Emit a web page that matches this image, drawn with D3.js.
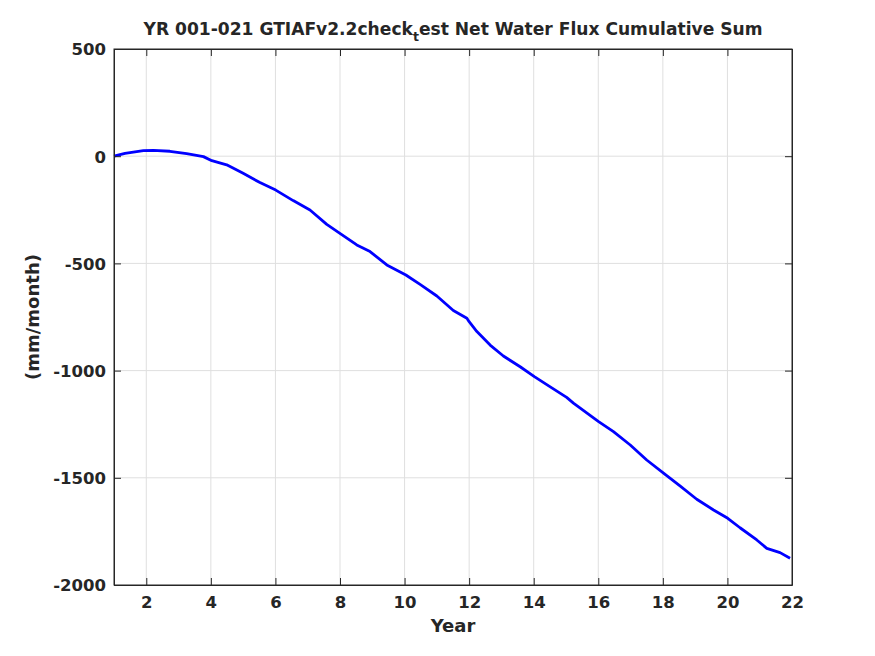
<!DOCTYPE html>
<html>
<head>
<meta charset="utf-8">
<script src="https://cdn.jsdelivr.net/npm/d3@7/dist/d3.min.js"></script>
<style>
  body { margin: 0; background: #fff; }
  svg { display: block; }
  text { font-family: "DejaVu Sans", sans-serif; font-weight: bold; fill: #262626; }
</style>
</head>
<body>
<svg id="chart" width="875" height="656"></svg>
<script>
// Data
const years = [1.0, 1.34, 1.91, 2.22, 2.73, 3.25, 3.77, 4.03, 4.49, 5.0, 5.52, 6.01, 6.55, 7.07, 7.59, 8.02, 8.52, 8.93, 9.45, 10.04, 10.48, 11.0, 11.51, 11.93, 12.0, 12.24, 12.65, 13.06, 13.58, 14.02, 14.5, 15.02, 15.23, 16.01, 16.47, 16.99, 17.5, 18.03, 18.53, 19.05, 19.57, 20.01, 20.39, 20.91, 21.22, 21.63, 21.94];
const cumSum = [0, 13, 26, 27, 23, 12, -2, -21, -40, -80, -123, -158, -207, -251, -318, -362, -414, -445, -507, -554, -598, -652, -720, -756, -772, -818, -881, -932, -982, -1028, -1075, -1125, -1152, -1238, -1285, -1347, -1417, -1479, -1538, -1600, -1650, -1689, -1733, -1790, -1829, -1849, -1875];
const xTicks = [2, 4, 6, 8, 10, 12, 14, 16, 18, 20, 22];
const yTicks = [500, 0, -500, -1000, -1500, -2000];
const titleMain = "YR 001-021 GTIAFv2.2check";
const titleSub = "t";
const titleRest = "est Net Water Flux Cumulative Sum";
const xLabel = "Year";
const yLabel = "(mm/month)";

const svg = d3.select("#chart");
const L = 114, R = 792, T = 49, B = 585;
const x = d3.scaleLinear().domain([1, 22]).range([L, R]);
const y = d3.scaleLinear().domain([-2000, 500]).range([B, T]);

// grid
const g = svg.append("g");
g.selectAll(".vg").data(xTicks.filter(d => d > 1 && d < 22)).enter().append("line")
  .attr("x1", d => x(d)).attr("x2", d => x(d)).attr("y1", T).attr("y2", B)
  .attr("stroke", "#dfdfdf").attr("stroke-width", 1);
g.selectAll(".hg").data(yTicks.filter(d => d > -2000 && d < 500)).enter().append("line")
  .attr("x1", L).attr("x2", R).attr("y1", d => y(d)).attr("y2", d => y(d))
  .attr("stroke", "#dfdfdf").attr("stroke-width", 1);

// line
const line = d3.line().x((d, i) => x(years[i])).y(d => y(d));
svg.append("path").datum(cumSum).attr("d", line)
  .attr("fill", "none").attr("stroke", "#0000ff").attr("stroke-width", 2.8)
  .attr("stroke-linejoin", "round");

// axes
const axisColor = "#262626";
const fmt = d => String(d);
const xb = svg.append("g").attr("transform", `translate(0,${B})`)
  .call(d3.axisBottom(x).tickValues(xTicks).tickSizeInner(-7).tickSizeOuter(0).tickFormat(fmt));
const xt = svg.append("g").attr("transform", `translate(0,${T})`)
  .call(d3.axisTop(x).tickValues(xTicks).tickSizeInner(-7).tickSizeOuter(0).tickFormat(""));
const yl = svg.append("g").attr("transform", `translate(${L},0)`)
  .call(d3.axisLeft(y).tickValues(yTicks).tickSizeInner(-7).tickSizeOuter(0).tickFormat(fmt));
const yr = svg.append("g").attr("transform", `translate(${R},0)`)
  .call(d3.axisRight(y).tickValues(yTicks).tickSizeInner(-7).tickSizeOuter(0).tickFormat(""));
[xb, xt, yl, yr].forEach(a => {
  a.selectAll("path.domain").attr("stroke", axisColor).attr("stroke-width", 1);
  a.selectAll(".tick line").attr("stroke", axisColor);
  a.selectAll(".tick text").attr("fill", axisColor)
    .style("font-family", '"DejaVu Sans", sans-serif').style("font-weight", "bold").style("font-size", "16.5px");
});
xb.selectAll(".tick text").attr("dy", null).attr("y", 23);
yl.selectAll(".tick text").attr("x", -8).attr("dy", "0.36em");
// box
svg.append("rect").attr("x", L).attr("y", T).attr("width", R - L).attr("height", B - T)
  .attr("fill", "none").attr("stroke", axisColor).attr("stroke-width", 1);

// title
const title = svg.append("text").attr("x", (L + R) / 2).attr("y", 35)
  .attr("text-anchor", "middle").style("font-size", "17.1px").attr("fill", "#000");
title.append("tspan").text(titleMain);
title.append("tspan").text(titleSub).attr("dy", 6).style("font-size", "12.5px");
title.append("tspan").text(titleRest).attr("dy", -6);

// axis labels
svg.append("text").attr("x", (L + R) / 2).attr("y", 632).attr("text-anchor", "middle")
  .style("font-size", "18px").text(xLabel);
svg.append("text").attr("transform", `translate(39,${(T + B) / 2}) rotate(-90)`)
  .attr("text-anchor", "middle").style("font-size", "18px").text(yLabel);
</script>
</body>
</html>
